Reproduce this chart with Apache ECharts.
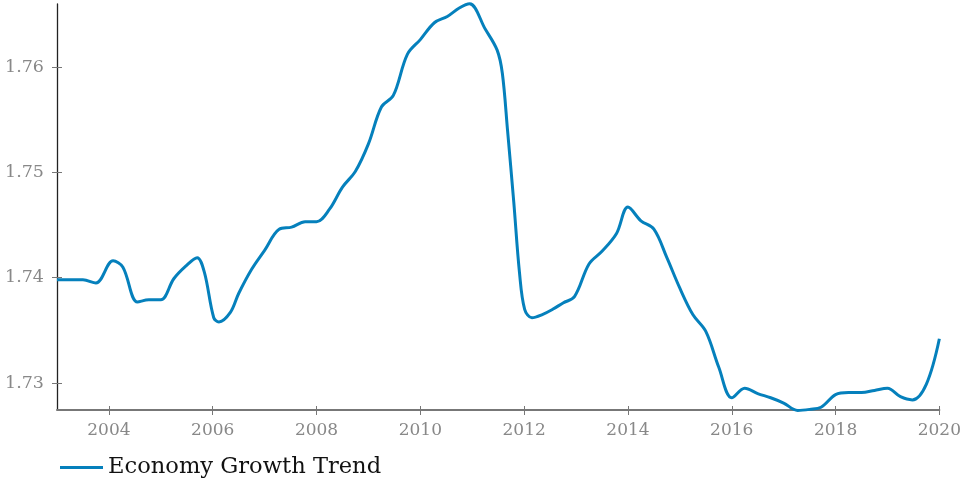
<!DOCTYPE html>
<html>
<head>
<meta charset="utf-8">
<script src="https://cdn.jsdelivr.net/npm/echarts@6/dist/echarts.min.js"></script>
<style>html,body{margin:0;padding:0;background:#fff}#c{width:964px;height:478px}</style>
</head>
<body>
<div id="c"></div>
<script>
const years = [2003.00,2003.25,2003.50,2003.75,2004.08,2004.27,2004.55,2004.77,2005.00,2005.25,2005.48,2005.70,2005.84,2006.02,2006.12,2006.34,2006.50,2006.75,2007.00,2007.28,2007.52,2007.78,2008.00,2008.25,2008.50,2008.75,2009.00,2009.25,2009.48,2009.75,2010.00,2010.27,2010.52,2010.75,2010.95,2011.25,2011.48,2011.58,2011.68,2011.80,2011.91,2012.01,2012.15,2012.35,2012.55,2012.75,2012.97,2013.25,2013.50,2013.78,2014.00,2014.25,2014.50,2014.75,2015.00,2015.25,2015.50,2015.75,2016.00,2016.25,2016.50,2016.75,2017.00,2017.27,2017.50,2017.72,2018.00,2018.25,2018.50,2018.75,2019.00,2019.25,2019.48,2019.75,2020.00];
const values = [1.7398,1.7398,1.7398,1.7395,1.7416,1.7410,1.7377,1.7379,1.7379,1.7399,1.7411,1.7419,1.7405,1.7362,1.7358,1.7367,1.7385,1.7408,1.7426,1.7446,1.7448,1.7453,1.7453,1.7465,1.7486,1.7501,1.7527,1.7562,1.7573,1.7612,1.7626,1.7642,1.7648,1.7656,1.7660,1.7636,1.7616,1.7594,1.7540,1.7472,1.7405,1.7370,1.7362,1.7365,1.7370,1.7376,1.7382,1.7413,1.7425,1.7442,1.7467,1.7454,1.7446,1.7419,1.7390,1.7365,1.7349,1.7315,1.7286,1.7295,1.7290,1.7286,1.7281,1.7274,1.7275,1.7277,1.7289,1.7291,1.7291,1.7293,1.7295,1.7287,1.7284,1.7299,1.7342];
const xTicks = [2004,2006,2008,2010,2012,2014,2016,2018,2020];
const yTicks = [1.73,1.74,1.75,1.76];
const seriesName = 'Economy Growth Trend';

const chart = echarts.init(document.getElementById('c'), null, {renderer:'canvas'});
const font = 'DejaVu Serif';
const xMin = 2003, xMax = 2020, yMin = 1.72744, yMax = 1.76598;
const grid = {left:57, right:23, top:4, bottom:68};
chart.setOption({
  animation:false,
  backgroundColor:'#fff',
  grid: grid,
  legend: {
    data:[{name:seriesName, icon:'rect'}],
    left:55, top:451, itemWidth:43, itemHeight:3, itemGap:7,
    textStyle:{fontFamily:font, fontSize:22.6, color:'#111'}
  },
  xAxis: [{
    type:'value', min:xMin, max:xMax,
    axisLine:{lineStyle:{color:'#777', width:2}},
    axisTick:{customValues:xTicks, length:5, lineStyle:{color:'#777', width:1}},
    axisLabel:{customValues:xTicks, margin:12, color:'#888', fontFamily:font, fontSize:17, formatter:v=>String(v)},
    splitLine:{show:false}
  },{
    type:'value', min:xMin, max:xMax, position:'bottom',
    axisLine:{show:false},
    axisTick:{customValues:xTicks, inside:true, length:4, lineStyle:{color:'#777', width:1}},
    axisLabel:{show:false}, splitLine:{show:false}
  }],
  yAxis: [{
    type:'value', min:yMin, max:yMax,
    axisLine:{show:true, lineStyle:{color:'#222', width:1.3}},
    axisTick:{show:true, customValues:yTicks, length:5, lineStyle:{color:'#777', width:1}},
    axisLabel:{customValues:yTicks, margin:13, color:'#888', fontFamily:font, fontSize:17.5, formatter:v=>v.toFixed(2)},
    splitLine:{show:false}
  },{
    type:'value', min:yMin, max:yMax, position:'left',
    axisLine:{show:false},
    axisTick:{show:true, customValues:yTicks, inside:true, length:5, lineStyle:{color:'#777', width:1}},
    axisLabel:{show:false}, splitLine:{show:false}
  }],
  series: [{
    name:seriesName, type:'line',
    data: years.map((y,i)=>[y, values[i]]),
    showSymbol:false, symbol:'none', smooth:0.35,
    lineStyle:{color:'#0580BC', width:3},
    itemStyle:{color:'#0580BC'},
    clip:false
  }]
});
</script>
</body>
</html>
